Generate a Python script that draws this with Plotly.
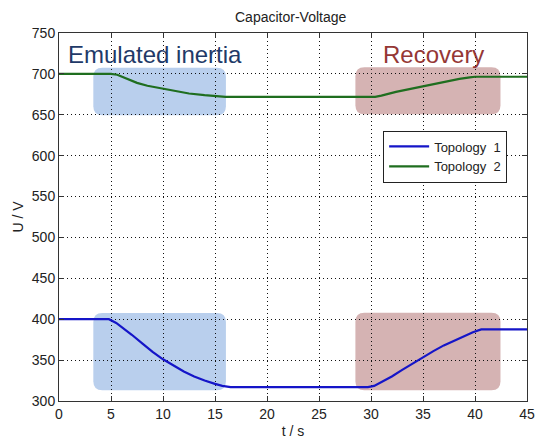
import plotly.graph_objects as go

# ---- data ----
t_topo1 = [0, 4.8, 5.5, 6.0, 7.0, 8.0, 9.0, 10.0, 11.0, 12.0, 13.0, 14.0, 15.0, 15.7, 16.5,
           29.7, 30.3, 31.0, 32.0, 33.0, 34.0, 35.0, 36.0, 37.0, 38.0, 39.0, 39.8, 40.6, 45]
u_topo1 = [400, 400, 395.5, 391, 381, 370.5, 360, 351, 343, 336, 330, 325, 321, 318.5, 317,
           317, 318.5, 323, 330, 338, 346, 354, 361, 368, 374, 379.5, 384, 387.5, 387.5]

t_topo2 = [0, 5.0, 5.6, 6.5, 7.5, 8.5, 10.0, 11.0, 12.5, 14.0, 15.0, 16.0,
           30.4, 31.0, 32.4, 33.5, 35.0, 36.0, 37.3, 38.5, 39.5, 40.0, 45]
u_topo2 = [700, 700, 699, 694, 689, 685.5, 681.7, 679, 676, 674, 673, 672,
           672, 673.5, 678, 681, 685.4, 688, 691, 694, 695.8, 696.5, 696.5]

series_names = ["Topology\u00a0\u00a01", "Topology\u00a0\u00a02"]

x_ticks = [0, 5, 10, 15, 20, 25, 30, 35, 40, 45]
y_ticks = [300, 350, 400, 450, 500, 550, 600, 650, 700, 750]

# highlight regions: (t_start, t_end, u_low, u_high)
inertia_regions = [(3.3, 16.05, 313, 407.5), (3.3, 16.05, 649.5, 707.5)]
recovery_regions = [(28.5, 42.45, 313, 408), (28.5, 42.45, 650.5, 708)]

W, H = 536, 439
ML, MR, MT, MB = 59, 9, 33, 38
X_RANGE = [0, 45]
Y_RANGE = [300, 750]
PLOT_H = H - MT - MB
px_per_x = (W - ML - MR) / (X_RANGE[1] - X_RANGE[0])
px_per_y = PLOT_H / (Y_RANGE[1] - Y_RANGE[0])


def rounded_rect(x0, x1, y0, y1, r_px=9):
    rx = r_px / px_per_x
    ry = r_px / px_per_y
    return (f"M {x0 + rx},{y0} L {x1 - rx},{y0} Q {x1},{y0} {x1},{y0 + ry} "
            f"L {x1},{y1 - ry} Q {x1},{y1} {x1 - rx},{y1} "
            f"L {x0 + rx},{y1} Q {x0},{y1} {x0},{y1 - ry} "
            f"L {x0},{y0 + ry} Q {x0},{y0} {x0 + rx},{y0} Z")


FONT = "Liberation Sans, Arial, sans-serif"
TXT = "#222222"

fig = go.Figure()
fig.add_trace(go.Scatter(x=t_topo1, y=u_topo1, mode="lines", name=series_names[0],
                         line=dict(color="#1515c8", width=2.2)))
fig.add_trace(go.Scatter(x=t_topo2, y=u_topo2, mode="lines", name=series_names[1],
                         line=dict(color="#1f6e1f", width=2.2)))

shapes = []
for (a, b, lo, hi) in inertia_regions:
    shapes.append(dict(type="path", path=rounded_rect(a, b, lo, hi), xref="x", yref="y",
                       fillcolor="#b9cfed", line=dict(width=0), layer="below"))
for (a, b, lo, hi) in recovery_regions:
    shapes.append(dict(type="path", path=rounded_rect(a, b, lo, hi), xref="x", yref="y",
                       fillcolor="#d5b3b3", line=dict(width=0), layer="below"))

annotations = [
    dict(text="Emulated inertia", x=9.2, y=724, xref="x", yref="y", showarrow=False,
         font=dict(family=FONT, size=24, color="#1f3a68"), xanchor="center", yanchor="middle"),
    dict(text="Recovery", x=36.0, y=724, xref="x", yref="y", showarrow=False,
         font=dict(family=FONT, size=24, color="#953735"), xanchor="center", yanchor="middle"),
    dict(text="Capacitor-Voltage", x=0.495, y=1 + (MT - 17) / PLOT_H, xref="paper", yref="paper",
         showarrow=False, font=dict(family=FONT, size=14, color=TXT),
         xanchor="center", yanchor="middle"),
]

axis_common = dict(
    showline=True, linecolor="#333333", linewidth=1, mirror="ticks",
    ticks="inside", ticklen=5, tickcolor="#333333",
    showgrid=True, gridcolor="#111111", griddash="1px,3px", gridwidth=1,
    zeroline=False, tickfont=dict(family=FONT, size=14, color=TXT),
    automargin=False,
)

fig.update_layout(
    width=W, height=H,
    margin=dict(l=ML, r=MR, t=MT, b=MB),
    paper_bgcolor="white", plot_bgcolor="white",
    xaxis=dict(range=X_RANGE, tickvals=x_ticks, ticklabeloverflow="allow",
               title=dict(text="t / s", font=dict(family=FONT, size=14, color=TXT), standoff=6),
               **axis_common),
    yaxis=dict(range=Y_RANGE, tickvals=y_ticks,
               title=dict(text="U / V", font=dict(family=FONT, size=14, color=TXT), standoff=4),
               **axis_common),
    legend=dict(x=0.6926, y=0.735, xanchor="left", yanchor="top",
                bgcolor="white", bordercolor="#222222", borderwidth=1,
                font=dict(family=FONT, size=13, color=TXT),
                tracegroupgap=0, itemwidth=40),
    shapes=shapes, annotations=annotations,
    showlegend=True,
)

fig.write_html("out.html", config={"displayModeBar": False},
               post_script="document.body.style.margin='0';document.body.style.overflow='hidden';")
